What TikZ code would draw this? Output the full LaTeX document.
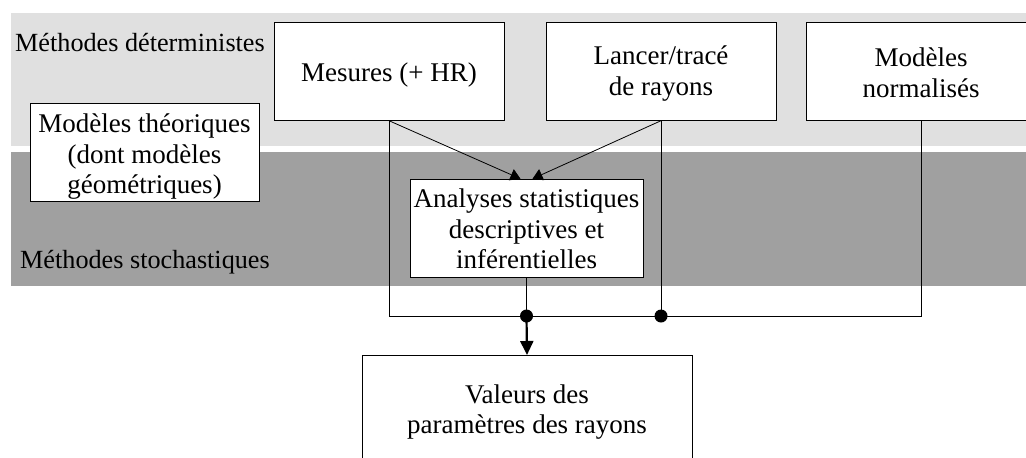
\documentclass[tikz,border=0pt]{standalone}
\usepackage{fontspec}
\setmainfont{Liberation Serif}
\usetikzlibrary{arrows.meta,calc}
\definecolor{lightband}{HTML}{E0E0E0}
\definecolor{darkband}{HTML}{A0A0A0}

\begin{document}
\begin{tikzpicture}[x=1pt,y=-1pt,
  font=\fontsize{27}{30.5}\selectfont,
  box/.style={draw, fill=white, inner sep=0pt, minimum height=98pt},
  boxtext/.style={align=center, inner sep=0pt},
  bandlabel/.style={anchor=west, inner sep=0pt, font=\fontsize{26.2}{30}\selectfont},
  link/.style={line width=0.8pt},
  junction/.style={circle, fill=black, inner sep=0pt, minimum size=13pt}]
  \clip (0,0) rectangle (1026,458);

  % bandes de fond
  \fill[lightband] (11,13) rectangle (1026,146);
  \fill[darkband]  (11,152) rectangle (1026,286);
  \node[bandlabel] (det) at (15,43)  {Méthodes déterministes};
  \node[bandlabel] (sto) at (20,262) {Méthodes stochastiques};

  % boites
  \node[box, minimum width=230pt] (mes)  at (389,71.5) {};
  \node[box, minimum width=230pt] (lan)  at (661,71.5) {};
  \node[box, minimum width=230pt] (norm) at (921,71.5) {};
  \node[box, minimum width=229pt] (theo) at (144.5,152) {};
  \node[box, minimum width=233pt] (ana)  at (526.5,228) {};
  \node[box, minimum width=330pt, minimum height=110pt, anchor=north] (val) at (527,355) {};

  % textes des boites
  \node[boxtext, yshift=-4pt] (mestext)  at (mes)  {Mesures (+ HR)};
  \node[boxtext, yshift=-2pt] (lantext)  at (lan)  {Lancer/tracé\\de rayons};
  \node[boxtext, yshift=-1pt] (normtext) at (norm) {Modèles\\normalisés};
  \node[boxtext, yshift=-5pt] (theotext) at (theo) {Modèles théoriques\\(dont modèles\\géométriques)};
  \node[boxtext, yshift=-1pt] (anatext)  at (ana)  {Analyses statistiques\\descriptives et\\inférentielles};
  \node[boxtext, yshift=-2pt] (valtext)  at (val)  {Valeurs des\\paramètres des rayons};

  % liaisons
  \coordinate (bus) at (0,316);
  \draw[link] (mes.south) -- (mes.south |- bus) -- (norm.south |- bus) -- (norm.south);
  \draw[link] (lan.south) -- (lan.south |- bus);
  \draw[link] (ana.south) -- (ana.south |- bus);
  \draw[link, -{Triangle[length=10pt,width=12pt]}] (mes.south) -- ($(ana.north)+(-6,0)$);
  \draw[link, -{Triangle[length=10pt,width=12pt]}] (lan.south) -- ($(ana.north)+(6,0)$);
  \draw[line width=2.2pt, -{Triangle[length=14pt,width=13pt]}] (ana.south |- bus) -- (val.north);
  \node[junction] (jana) at (ana.south |- bus) {};
  \node[junction] (jlan) at (lan.south |- bus) {};
\end{tikzpicture}
\end{document}
